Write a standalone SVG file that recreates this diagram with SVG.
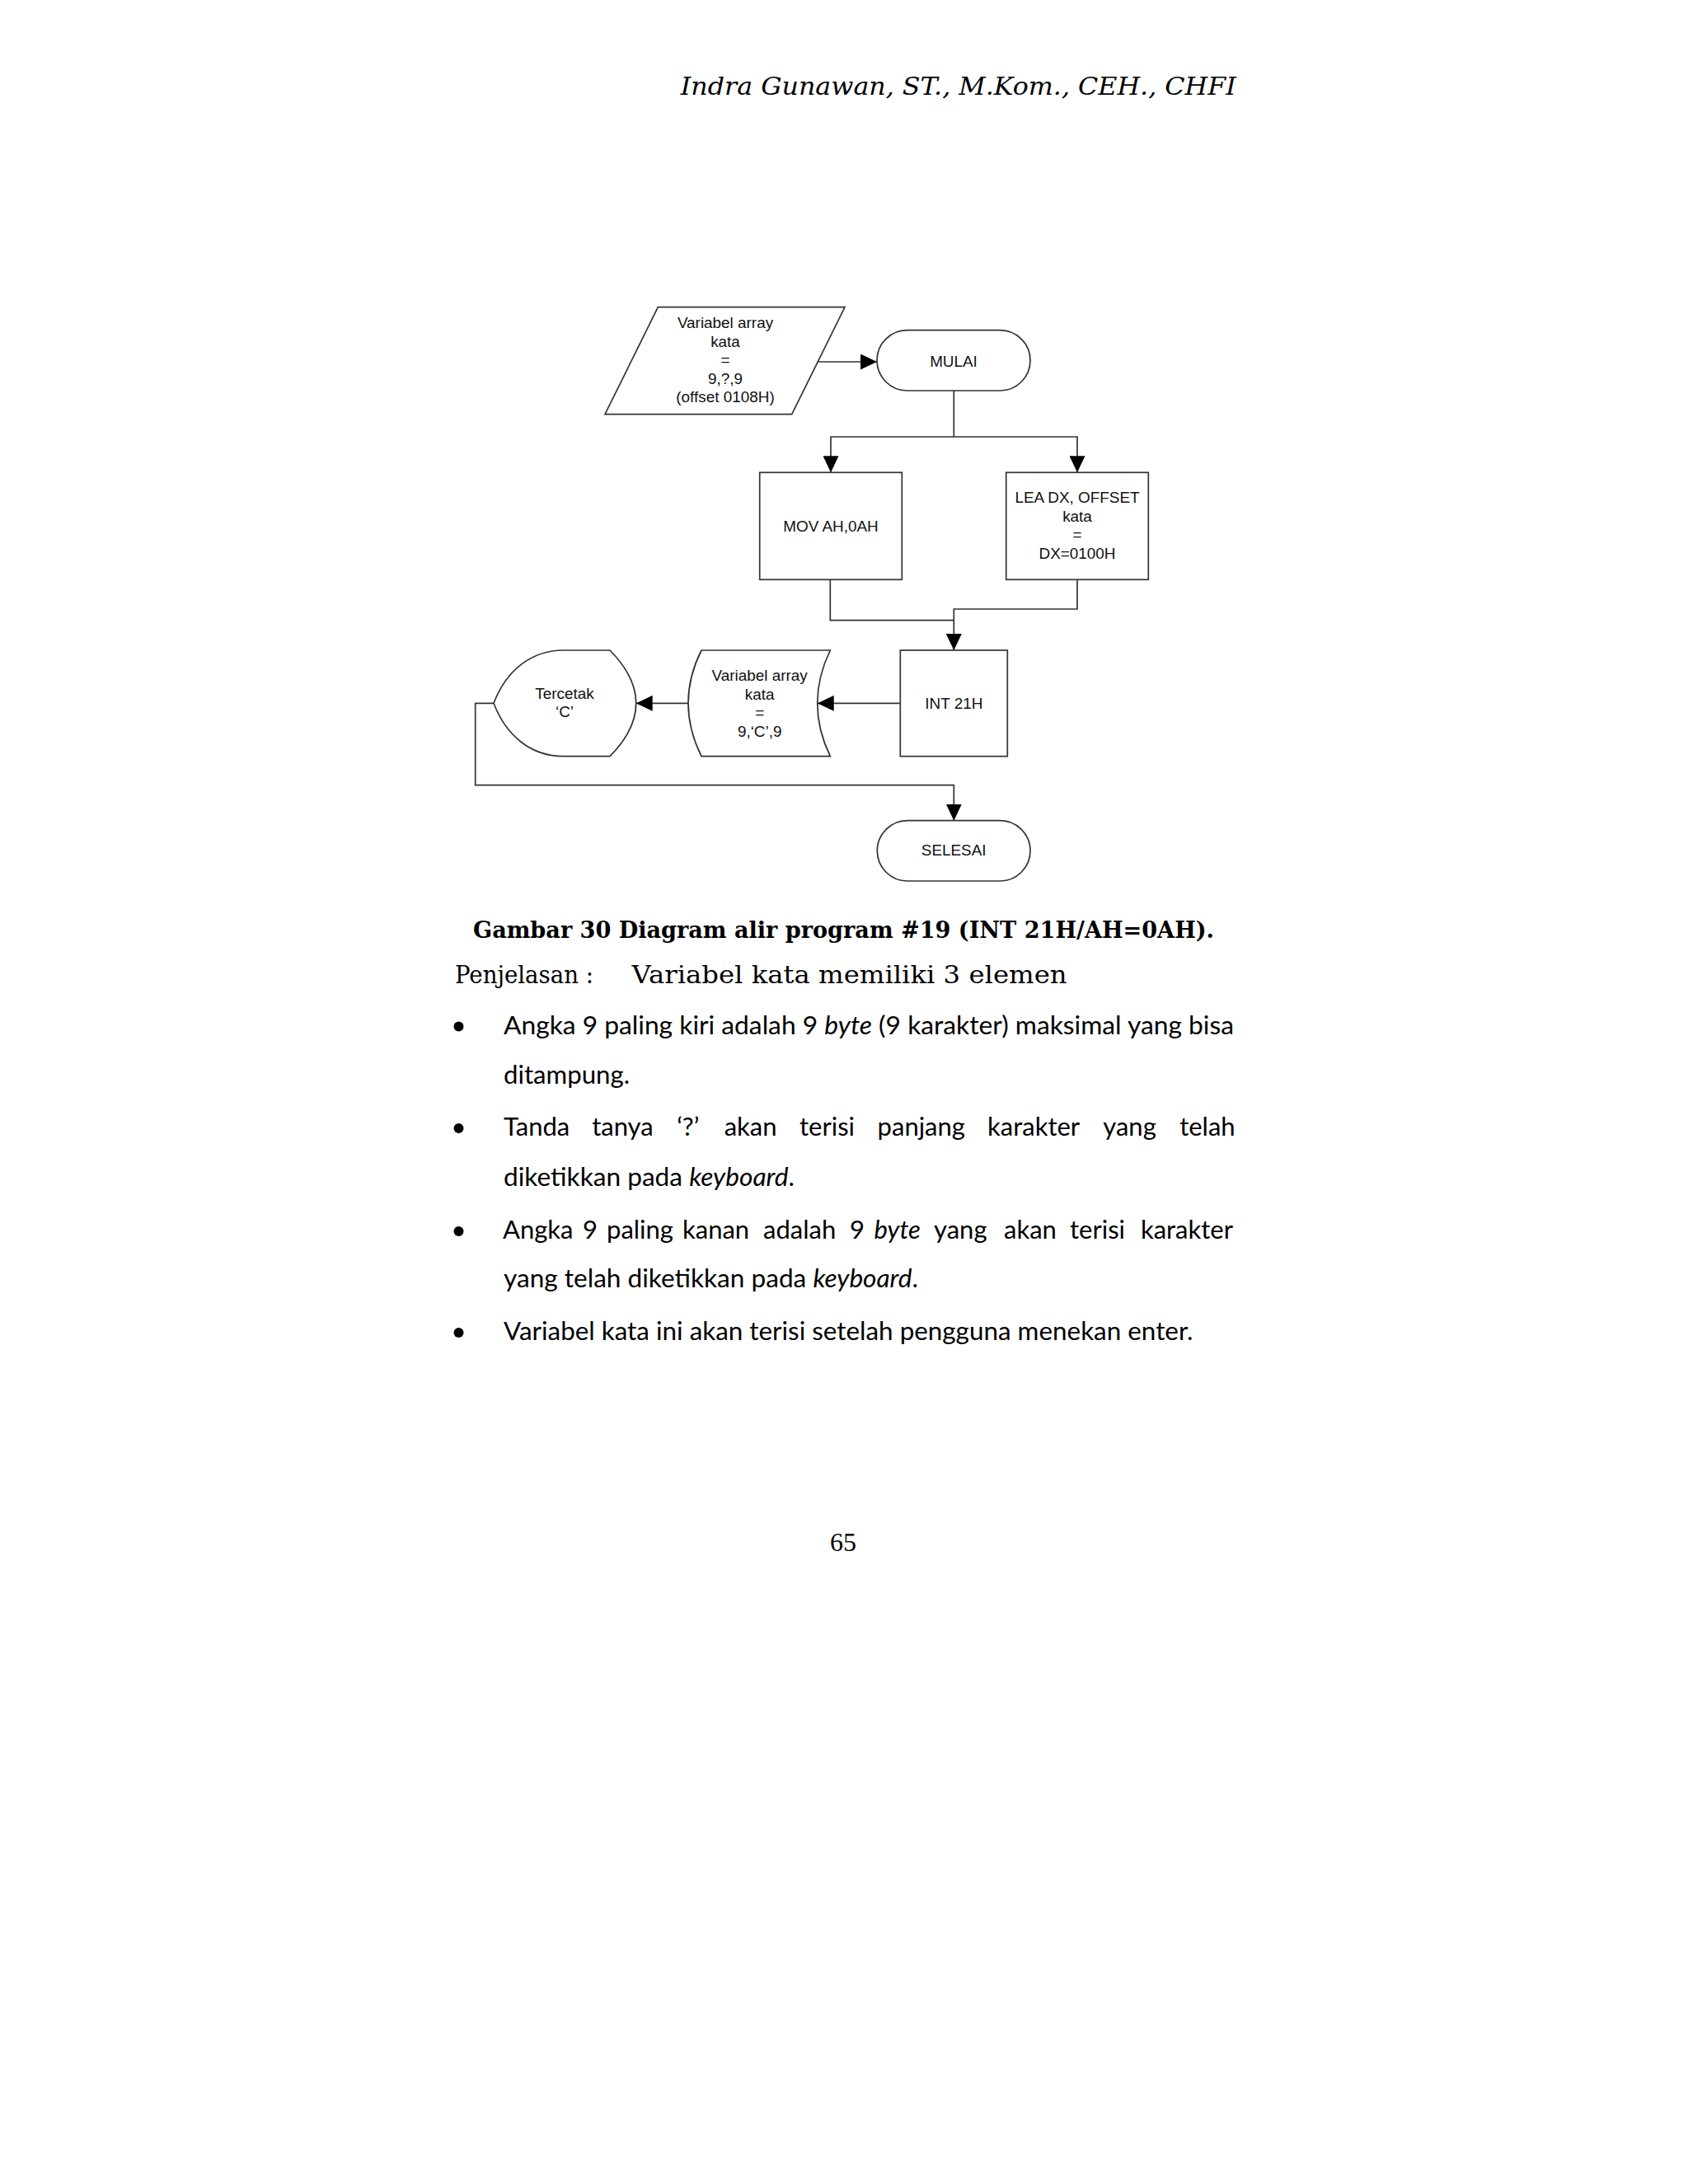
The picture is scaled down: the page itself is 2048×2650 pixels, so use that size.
<svg xmlns="http://www.w3.org/2000/svg" width="2048" height="2650" viewBox="0 0 2048 2650">
<style>
.shape{fill:#ffffff;stroke:#333333;stroke-width:1.7}
.conn{fill:none;stroke:#333333;stroke-width:1.7}
.lbl{font-family:"Liberation Sans",Arial,sans-serif;font-size:18.9px;fill:#111;text-anchor:middle}
.body{font-family:Lato,"Open Sans",sans-serif;font-size:31px;fill:#000}
.it{font-style:italic}
</style>
<defs>
<marker id="arr" markerUnits="userSpaceOnUse" markerWidth="20" markerHeight="19" refX="20" refY="9.5" orient="auto">
<path d="M0,0 L20,9.5 L0,19 Z" fill="#000"/>
</marker>
</defs>
<rect x="0" y="0" width="2048" height="2650" fill="#ffffff"/>

<text x="825.8" y="115" font-family="DejaVu Serif,serif" font-style="italic" font-size="30.5" textLength="674" lengthAdjust="spacingAndGlyphs" fill="#000">Indra Gunawan, ST., M.Kom., CEH., CHFI</text>

<g id="connectors">
<path class="conn" d="M992.5,439 H1064" marker-end="url(#arr)"/>
<path class="conn" d="M1157.3,474 V530 H1008 V573.3" marker-end="url(#arr)"/>
<path class="conn" d="M1157.3,530 H1307 V573.3" marker-end="url(#arr)"/>
<path class="conn" d="M1007.3,703.3 V752.7 H1157.3"/>
<path class="conn" d="M1307,703.3 V739 H1157.3 V789" marker-end="url(#arr)"/>
<path class="conn" d="M1092.3,853.3 H991.7" marker-end="url(#arr)"/>
<path class="conn" d="M835,853.3 H771.7" marker-end="url(#arr)"/>
<path class="conn" d="M599,853.3 H576.7 V952.7 H1157.3 V995.7" marker-end="url(#arr)"/>
</g>

<g id="input-kata">
<polygon class="shape" points="798.3,372.7 1025,372.7 960.7,502.7 734,502.7"/>
<text class="lbl" x="880" y="398">Variabel array</text>
<text class="lbl" x="880" y="420.5">kata</text>
<text class="lbl" x="880" y="443">=</text>
<text class="lbl" x="880" y="465.5">9,?,9</text>
<text class="lbl" x="880" y="488">(offset 0108H)</text>
</g>

<g id="mulai">
<rect class="shape" x="1064" y="400.7" width="186" height="73.3" rx="36.65" ry="36.65"/>
<text class="lbl" x="1157" y="444.5">MULAI</text>
</g>

<g id="mov">
<rect class="shape" x="921.7" y="573.3" width="172.6" height="130"/>
<text class="lbl" x="1008" y="645">MOV AH,0AH</text>
</g>

<g id="lea">
<rect class="shape" x="1220.7" y="573.3" width="172.6" height="130"/>
<text class="lbl" x="1307" y="610">LEA DX, OFFSET</text>
<text class="lbl" x="1307" y="632.5">kata</text>
<text class="lbl" x="1307" y="655">=</text>
<text class="lbl" x="1307" y="677.5">DX=0100H</text>
</g>

<g id="int21h">
<rect class="shape" x="1092.3" y="789" width="130" height="128.7"/>
<text class="lbl" x="1157.3" y="859.5">INT 21H</text>
</g>

<g id="stored-kata">
<path class="shape" d="M851,789 L1007.3,789 Q976.1,853.3 1007.3,917.7 L851,917.7 Q819,853.3 851,789 Z"/>
<text class="lbl" x="921.7" y="826">Variabel array</text>
<text class="lbl" x="921.7" y="848.5">kata</text>
<text class="lbl" x="921.7" y="871">=</text>
<text class="lbl" x="921.7" y="893.5">9,‘C’,9</text>
</g>

<g id="tercetak">
<path class="shape" d="M599,853.3 C614,814 644,789 684,789 L740,789 Q803.4,853.3 740,917.7 L684,917.7 C644,917.7 614,892.6 599,853.3 Z"/>
<text class="lbl" x="685" y="847.7">Tercetak</text>
<text class="lbl" x="685" y="870">‘C’</text>
</g>

<g id="selesai">
<rect class="shape" x="1064.3" y="995.7" width="185.7" height="73.3" rx="36.65" ry="36.65"/>
<text class="lbl" x="1157.2" y="1038">SELESAI</text>
</g>

<text x="574" y="1138" font-family="DejaVu Serif,serif" font-weight="bold" font-size="27" textLength="899" lengthAdjust="spacingAndGlyphs" fill="#000">Gambar 30 Diagram alir program #19 (INT 21H/AH=0AH).</text>
<text x="552" y="1193" font-family="DejaVu Serif,serif" font-size="29" textLength="168" lengthAdjust="spacingAndGlyphs" fill="#000">Penjelasan :</text>
<text x="766.6" y="1193" font-family="DejaVu Serif,serif" font-size="29" textLength="528" lengthAdjust="spacingAndGlyphs" fill="#000">Variabel kata memiliki 3 elemen</text>

<g fill="#000">
<circle cx="556.5" cy="1245.5" r="6"/>
<circle cx="556.5" cy="1369" r="6"/>
<circle cx="556.5" cy="1494" r="6"/>
<circle cx="556.5" cy="1617" r="6"/>
</g>

<text class="body" x="611" y="1254.5" textLength="886" lengthAdjust="spacingAndGlyphs">Angka 9 paling kiri adalah 9 <tspan class="it">byte</tspan> (9 karakter) maksimal yang bisa</text>
<text class="body" x="611" y="1315" textLength="153" lengthAdjust="spacingAndGlyphs">ditampung.</text>
<text class="body" y="1378"><tspan x="611">Tanda</tspan><tspan x="718.2">tanya</tspan><tspan x="821.2">‘?’</tspan><tspan x="878.7">akan</tspan><tspan x="970">terisi</tspan><tspan x="1064.6">panjang</tspan><tspan x="1198.1">karakter</tspan><tspan x="1338.3">yang</tspan><tspan x="1431.2">telah</tspan></text>
<text class="body" x="611" y="1438.6" textLength="353" lengthAdjust="spacingAndGlyphs">diketikkan pada <tspan class="it">keyboard</tspan>.</text>
<text class="body" y="1503"><tspan x="610">Angka</tspan><tspan x="707">9</tspan><tspan x="736">paling</tspan><tspan x="828">kanan</tspan><tspan x="926">adalah</tspan><tspan x="1031">9</tspan><tspan x="1060.5" class="it">byte</tspan><tspan x="1133">yang</tspan><tspan x="1218">akan</tspan><tspan x="1298">terisi</tspan><tspan x="1383.9">karakter</tspan></text>
<text class="body" x="611" y="1562" textLength="503" lengthAdjust="spacingAndGlyphs">yang telah diketikkan pada <tspan class="it">keyboard</tspan>.</text>
<text class="body" x="611" y="1626" textLength="836.5" lengthAdjust="spacingAndGlyphs">Variabel kata ini akan terisi setelah pengguna menekan enter.</text>

<text x="1023" y="1882" font-family="Liberation Serif,serif" font-size="32" text-anchor="middle" fill="#000">65</text>
</svg>
